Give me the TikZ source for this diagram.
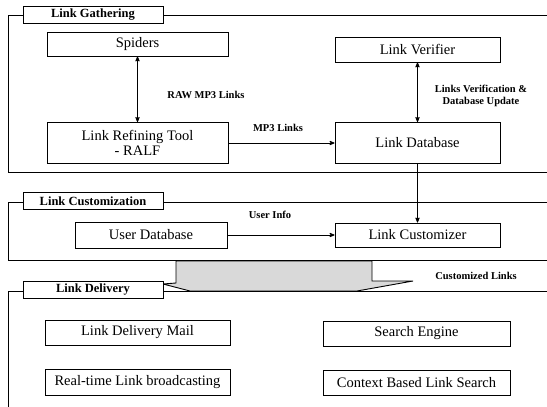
\documentclass[tikz,border=0pt]{standalone}
\usepackage{fontspec}
\setmainfont{Liberation Serif}
\usetikzlibrary{arrows}

\begin{document}
\begin{tikzpicture}[x=1pt, y=-1pt, line width=0.9pt,
    box/.style={rectangle, draw, minimum width=181pt, minimum height=24pt, align=center, font=\fontsize{14.5}{15}\selectfont},
    tab/.style={rectangle, draw, fill=white, minimum width=140pt, minimum height=17pt, inner sep=1pt, font=\fontsize{12.5}{13}\selectfont\bfseries},
    lbl/.style={align=center, inner sep=1pt, font=\fontsize{10.5}{12}\selectfont\bfseries},
    arrow/.style={->, >=stealth', line width=0.8pt},
    dblarrow/.style={<->, >=stealth', line width=0.8pt}
]
    \useasboundingbox (0,0) rectangle (547,407);

    \draw[fill=gray!30] (176,261) -- (372,261) -- (372,281) -- (413,281) -- (357,291) -- (190,291) -- (163,284) -- (176,283) -- cycle;

    \draw (547,15) -- (8,15) -- (8,172) -- (547,172);
    \draw (547,202) -- (8,202) -- (8,260) -- (547,260);
    \draw (547,291) -- (8,291) -- (8,407);

    \node[tab] (gather) at (93,15) {Link Gathering};
    \node[tab] (custom) at (93,201) {Link Customization};
    \node[tab] (deliver) at (93,290) {Link Delivery};

    \node[box] (spiders) at (137.5,44) {Spiders};
    \node[box, minimum height=41pt] (ralf) at (137.5,143) {Link Refining Tool\\- RALF};
    \node[box, minimum width=165pt, minimum height=25pt] (verifier) at (417.5,49.5) {Link Verifier};
    \node[box, minimum width=165pt, minimum height=41pt] (linkdb) at (417.5,143) {Link Database};
    \node[box, minimum width=152pt, minimum height=26pt] (userdb) at (151,235) {User Database};
    \node[box, minimum width=165pt] (customizer) at (417.5,235) {Link Customizer};
    \node[box, minimum width=185pt, minimum height=25pt] (mail) at (137.5,332.5) {Link Delivery Mail};
    \node[box, minimum width=187pt, minimum height=25pt] (search) at (416.5,333.5) {Search Engine};
    \node[box, minimum width=185pt, minimum height=26pt] (bcast) at (137.5,382) {Real-time Link broadcasting};
    \node[box, minimum width=187pt, minimum height=25pt] (context) at (416.5,382.5) {Context Based Link Search};

    \draw[dblarrow] (spiders) -- (ralf);
    \draw[dblarrow] (verifier) -- (linkdb);
    \draw[arrow] (ralf) -- (linkdb);
    \draw[arrow] (linkdb) -- (customizer);
    \draw[arrow] (userdb) -- (customizer);

    \node[lbl] (rawlbl) at (206,95) {RAW MP3 Links};
    \node[lbl] (mp3lbl) at (278,128) {MP3 Links};
    \node[lbl] (verlbl) at (481,96) {Links Verification \&\\Database Update};
    \node[lbl] (infolbl) at (270,215) {User Info};
    \node[lbl] (custlbl) at (476,276) {Customized Links};
\end{tikzpicture}
\end{document}
